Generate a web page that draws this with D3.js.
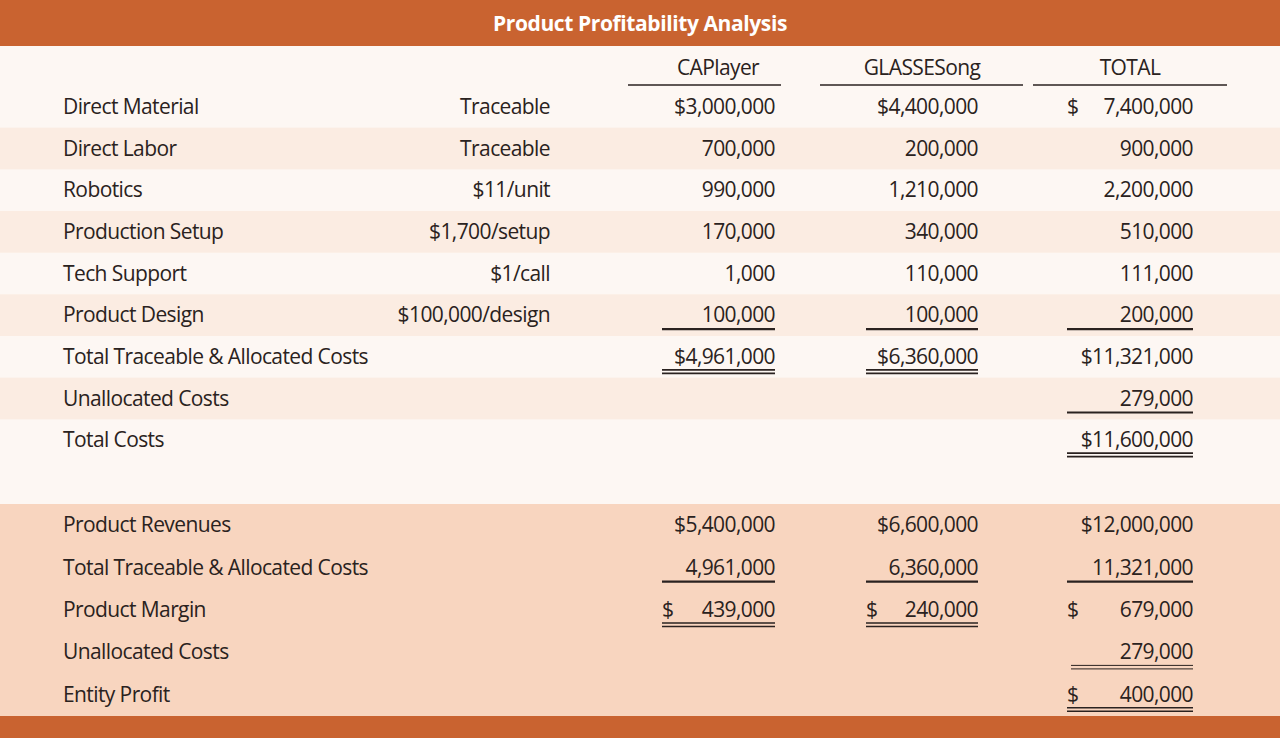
<!DOCTYPE html>
<html><head><meta charset="utf-8">
<script src="https://cdn.jsdelivr.net/npm/d3@7"></script>
<style>body{margin:0;background:#fff}svg{display:block}</style></head>
<body><svg id="c" width="1280" height="738"></svg>
<script>
const title = "Product Profitability Analysis";
const columns = ["CAPlayer", "GLASSESong", "TOTAL"];
const costLabels = ["Direct Material","Direct Labor","Robotics","Production Setup","Tech Support","Product Design","Total Traceable & Allocated Costs","Unallocated Costs","Total Costs"];
const costRates = ["Traceable","Traceable","$11/unit","$1,700/setup","$1/call","$100,000/design","","",""];
const capValues = ["$3,000,000","700,000","990,000","170,000","1,000","100,000","$4,961,000","",""];
const glaValues = ["$4,400,000","200,000","1,210,000","340,000","110,000","100,000","$6,360,000","",""];
const totValues = ["7,400,000","900,000","2,200,000","510,000","111,000","200,000","$11,321,000","279,000","$11,600,000"];
const totDollar = [true,false,false,false,false,false,false,false,false];
// underline types per row per column: 0 none, 1 single, 2 double
const costRules = [[0,0,0],[0,0,0],[0,0,0],[0,0,0],[0,0,0],[1,1,1],[2,2,0],[0,0,1],[0,0,2]];
const profLabels = ["Product Revenues","Total Traceable & Allocated Costs","Product Margin","Unallocated Costs","Entity Profit"];
const profCap = ["$5,400,000","4,961,000","439,000","",""];
const profGla = ["$6,600,000","6,360,000","240,000","",""];
const profTot = ["$12,000,000","11,321,000","679,000","279,000","400,000"];
const profDollar = [[false,false,false],[false,false,false],[true,true,true],[false,false,false],[false,false,true]];
const profRules = [[0,0,0],[1,1,1],[2,2,0],[0,0,3],[0,0,2]];

const svg = d3.select("#c");
const font = "'Open Sans', sans-serif";
const ink = "#2a2220";
svg.append("rect").attr("width",1280).attr("height",738).attr("fill","#fdf7f3");
svg.append("rect").attr("width",1280).attr("height",46).attr("fill","#c96330");
svg.append("text").attr("x",640).attr("y",31).attr("text-anchor","middle").attr("fill","#fff")
  .attr("font-family",font).attr("font-weight","bold").attr("font-size",21).attr("letter-spacing","-0.4").text(title);

const colRight = [775, 978, 1193];
const colHead = [{c:718,x1:628,x2:781},{c:922,x1:820,x2:1023},{c:1130,x1:1033,x2:1227}];
const ruleLeft = [662, 866, 1067];

const y1 = d3.scaleBand().domain(d3.range(costLabels.length)).range([86, 461]);
const y2 = d3.scaleBand().domain(d3.range(profLabels.length)).range([504, 716]);

// bands
costLabels.forEach((_,i)=>{ if(i%2===1) svg.append("rect").attr("x",0).attr("y",y1(i)).attr("width",1280).attr("height",y1.bandwidth()).attr("fill","#fbece2"); });
svg.append("rect").attr("x",0).attr("y",504).attr("width",1280).attr("height",212).attr("fill","#f8d5bf");
svg.append("rect").attr("x",0).attr("y",716).attr("width",1280).attr("height",22).attr("fill","#c96330");

function txt(x,y,s,anchor){
  return svg.append("text").attr("x",x).attr("y",y).attr("text-anchor",anchor||"start").attr("fill",ink)
   .attr("font-family",font).attr("font-size",21).attr("letter-spacing","-0.6").text(s);
}
columns.forEach((c,i)=>{
  txt(colHead[i].c,75,c,"middle");
  svg.append("line").attr("x1",colHead[i].x1).attr("x2",colHead[i].x2).attr("y1",85).attr("y2",85).attr("stroke",ink).attr("stroke-width",1.5);
});
function rule(x1,x2,y,type){
  const g=svg.append("g").attr("stroke",ink);
  if(type===1){ g.append("line").attr("x1",x1).attr("x2",x2).attr("y1",y).attr("y2",y).attr("stroke-width",2.2); }
  if(type===2||type===3){ const w=type===3?1:1.6;
    g.append("line").attr("x1",x1).attr("x2",x2).attr("y1",y).attr("y2",y).attr("stroke-width",w);
    g.append("line").attr("x1",x1).attr("x2",x2).attr("y1",y+3.5).attr("y2",y+3.5).attr("stroke-width",w); }
}
function drawRows(y,labels,rates,vals,dollars,rules){
  labels.forEach((l,i)=>{
    const by=y(i)+y.bandwidth()/2+7;
    txt(63,by,l);
    if(rates && rates[i]) txt(550,by,rates[i],"end");
    vals.forEach((col,j)=>{
      if(col[i]) txt(colRight[j],by,col[i],"end");
      if(dollars[i][j]) txt(ruleLeft[j],by,"$");
      rule(j===2&&rules[i][j]===3?1071:ruleLeft[j],colRight[j],by+(rules[i][j]===1?7:6),rules[i][j]);
    });
  });
}
drawRows(y1,costLabels,costRates,[capValues,glaValues,totValues],totDollar.map(d=>[false,false,d]),costRules);
drawRows(y2,profLabels,null,[profCap,profGla,profTot],profDollar,profRules);
</script></body></html>
